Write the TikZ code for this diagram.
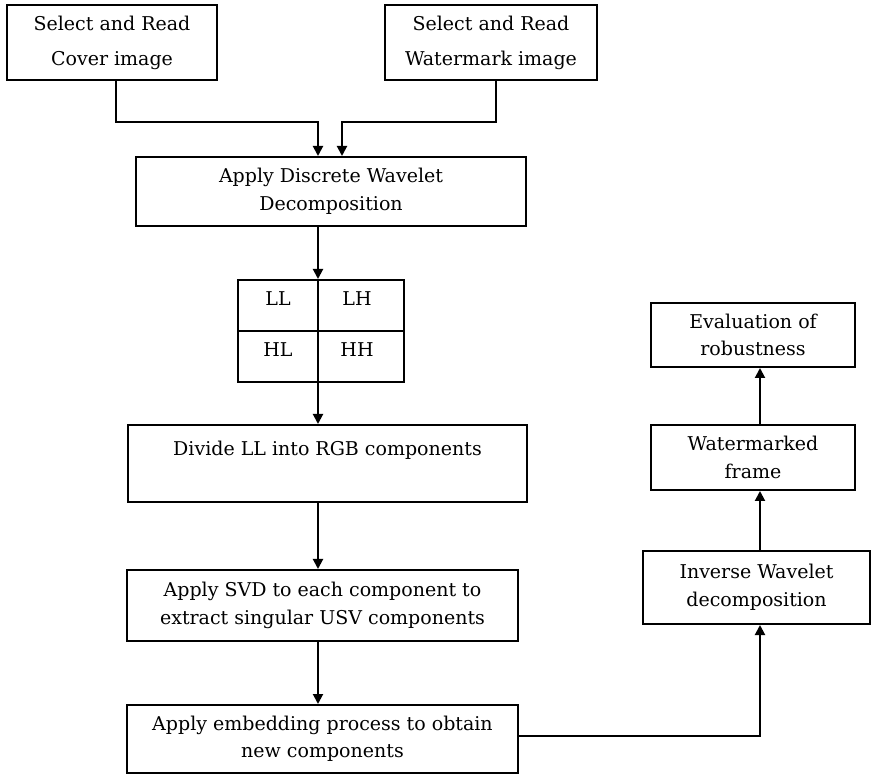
\documentclass[tikz,border=0pt]{standalone}
\usepackage{fontspec}
\setmainfont{DejaVu Serif}
\usetikzlibrary{arrows.meta}
\begin{document}
\begin{tikzpicture}[x=1pt, y=-1pt,
    every node/.style={font=\fontsize{19}{27.5}\selectfont, align=center},
    box/.style={draw, line width=2pt, inner sep=0pt},
    flow/.style={line width=2pt, -{Triangle[width=10pt,length=10pt]}}]
    \useasboundingbox (0,0) rectangle (871,775);
    % input images
    \node[box, minimum width=210, minimum height=75, font=\fontsize{19}{35}\selectfont] (cover) at (112,42.5) {Select and Read\\Cover image};
    \node[box, minimum width=212, minimum height=75, font=\fontsize{19}{35}\selectfont] (water) at (491,42.5) {Select and Read\\Watermark image};
    % left column
    \node[box, minimum width=390, minimum height=69] (dwt) at (331,191.5) {Apply Discrete Wavelet\\Decomposition};
    \node[box, minimum width=166, minimum height=102] (bands) at (321,331) {};
    \node[box, minimum width=399, minimum height=77, text depth=30pt] (divide) at (327.5,463.5) {Divide LL into RGB components};
    \node[box, minimum width=391, minimum height=71] (svd) at (322.5,605.5) {Apply SVD to each component to\\extract singular USV components};
    \node[box, minimum width=391, minimum height=68] (embed) at (322.5,739) {Apply embedding process to obtain\\new components};
    % right column
    \node[box, minimum width=227, minimum height=73] (inverse) at (756.5,587.5) {Inverse Wavelet\\decomposition};
    \node[box, minimum width=204, minimum height=65] (marked) at (753,457.5) {Watermarked\\frame};
    \node[box, minimum width=204, minimum height=64] (eval) at (753,335) {Evaluation of\\robustness};
    % sub-bands
    \coordinate (axis) at (318,0);
    \coordinate (back) at (760,0);
    \draw[line width=2pt] (bands.north -| axis) -- (bands.south -| axis);
    \draw[line width=2pt] (bands.west) -- (bands.east);
    \foreach \bx/\by/\bname in {278/299/LL, 357/299/LH, 278/350/HL, 357/350/HH} {
        \node (\bname) at (\bx,\by) {\bname};
    }
    % connectors
    \coordinate (inL) at (318,122);
    \coordinate (inR) at (342,122);
    \draw[flow] ([xshift=4pt]cover.south) |- (inL) -- (inL |- dwt.north);
    \draw[flow] ([xshift=5pt]water.south) |- (inR) -- (inR |- dwt.north);
    \draw[flow] (dwt.south -| axis) -- (bands.north -| axis);
    \draw[flow] (bands.south -| axis) -- (divide.north -| axis);
    \draw[flow] (divide.south -| axis) -- (svd.north -| axis);
    \draw[flow] (svd.south -| axis) -- (embed.north -| axis);
    \draw[flow] ([yshift=3pt]embed.east) -| (inverse.south -| back);
    \draw[flow] (inverse.north -| back) -- (marked.south -| back);
    \draw[flow] (marked.north -| back) -- (eval.south -| back);
\end{tikzpicture}
\end{document}
